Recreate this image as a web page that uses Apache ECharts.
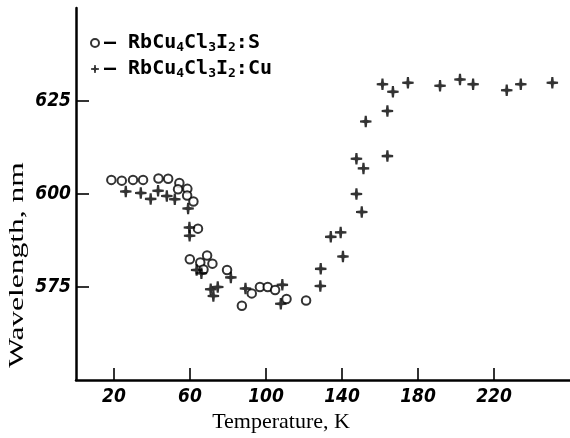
<!DOCTYPE html>
<html>
<head>
<meta charset="utf-8">
<script src="https://cdn.jsdelivr.net/npm/echarts@6/dist/echarts.min.js"></script>
<style>html,body{margin:0;padding:0;background:#fff;}#c{width:570px;height:438px;}</style>
</head>
<body>
<div id="c"></div>
<script>
// Temperature (K) vs wavelength (nm)
var seriesNames = ['RbCu4Cl3I2:S', 'RbCu4Cl3I2:Cu'];
var dataS = [
  [18.6,603.8],[24.1,603.6],[30.0,603.8],[35.3,603.8],[43.4,604.2],[48.5,604.1],
  [54.4,603.0],[53.7,601.3],[58.6,601.4],[58.5,599.6],[61.8,598.0],[64.2,590.7],
  [59.9,582.5],[65.4,581.6],[69.0,583.5],[71.8,581.3],[67.1,579.7],[79.5,579.6],
  [87.3,570.0],[92.5,573.3],[96.8,575.0],[100.9,575.0],[104.8,574.2],[110.8,571.8],
  [121.1,571.4]
];
var dataCu = [
  [26.2,600.7],[34.1,600.3],[39.3,598.7],[43.2,600.9],[47.8,599.5],[52.0,598.6],
  [59.0,596.1],[59.7,591.0],[59.8,588.8],[63.5,579.6],[66.0,578.7],[70.9,574.4],
  [72.3,572.6],[74.6,575.0],[81.5,577.6],[89.2,574.6],[108.6,575.6],[107.8,570.5],
  [128.6,575.3],[128.8,579.9],[134.1,588.5],[139.3,589.7],[140.5,583.2],[147.6,600.0],
  [150.4,595.2],[147.6,609.5],[151.3,606.9],[152.5,619.5],[163.9,622.3],[163.9,610.2],
  [161.3,629.5],[166.8,627.5],[174.7,629.9],[191.6,629.1],[202.1,630.8],[209.0,629.5],
  [226.7,627.9],[234.1,629.5],[250.7,629.9]
];
var xTicks = [20, 60, 100, 140, 180, 220];
var xTitle = 'Temperature, K';
var yTitle = 'Wavelength, nm';

var tickFont = "'Liberation Sans Narrow','DejaVu Sans Condensed','Liberation Sans',sans-serif";
var serifFont = "'Liberation Serif','DejaVu Serif',serif";
var plusPath = 'path://M4.1 0 L5.9 0 L6.3 3.7 L10 4.1 L10 5.9 L6.3 6.3 L5.9 10 L4.1 10 L3.7 6.3 L0 5.9 L0 4.1 L3.7 3.7 Z';

var chart = echarts.init(document.getElementById('c'), null, {renderer: 'canvas'});
chart.setOption({
  animation: false,
  backgroundColor: '#fff',
  grid: {left: 76, right: 0, top: 8, bottom: 54, containLabel: false},
  graphic: [{
    type: 'text', x: 17, y: 265, rotation: Math.PI / 2, scaleX: 1.5, scaleY: 1,
    style: {text: yTitle, font: "21px 'Liberation Serif','DejaVu Serif',serif", fill: '#000',
      textAlign: 'center', textVerticalAlign: 'middle'}
  }],
  legend: {
    orient: 'vertical', left: 85, top: 27, itemGap: 4,
    itemWidth: 8, itemHeight: 8,
    data: seriesNames,
    formatter: function (n) {
      return n === seriesNames[0]
        ? '– RbCu{s|4}Cl{s|3}I{s|2}:S'
        : '– RbCu{s|4}Cl{s|3}I{s|2}:Cu';
    },
    textStyle: {
      color: '#000', fontFamily: "'DejaVu Sans Mono',monospace", fontWeight: 'bold',
      fontSize: 20, lineHeight: 22,
      rich: {s: {fontFamily: "'DejaVu Sans Mono',monospace", fontWeight: 'bold', fontSize: 13, lineHeight: 13, verticalAlign: 'bottom', padding: [6,0,0,0]}}
    }
  },
  xAxis: {
    type: 'value', min: 0, max: 260,
    name: xTitle, nameLocation: 'middle', nameGap: 28,
    nameTextStyle: {color: '#000', fontFamily: serifFont, fontSize: 22, padding: [0, 84, 0, 0]},
    axisLine: {lineStyle: {color: '#000', width: 2.5}},
    axisTick: {inside: true, length: 12, customValues: xTicks, lineStyle: {color: '#000', width: 1.6}},
    axisLabel: {customValues: xTicks, color: '#000', fontFamily: tickFont, fontStyle: 'italic', fontWeight: 'bold', fontSize: 19, margin: 7},
    splitLine: {show: false}
  },
  yAxis: {
    type: 'value', min: 550, max: 650, interval: 25,
    axisLine: {show: true, lineStyle: {color: '#000', width: 2.5}},
    axisTick: {inside: true, length: 13, lineStyle: {color: '#000', width: 1.6}},
    axisLabel: {color: '#000', fontFamily: tickFont, fontStyle: 'italic', fontWeight: 'bold', fontSize: 19, margin: 5,
      showMinLabel: false, showMaxLabel: false},
    splitLine: {show: false}
  },
  series: [
    {
      name: seriesNames[0], type: 'scatter', data: dataS,
      symbol: 'circle', symbolSize: 8.5,
      itemStyle: {color: '#fff', borderColor: '#000', borderWidth: 2}
    },
    {
      name: seriesNames[1], type: 'scatter', data: dataCu,
      symbol: plusPath, symbolSize: 11.5,
      itemStyle: {color: '#000'}
    }
  ]
});
</script>
</body>
</html>
